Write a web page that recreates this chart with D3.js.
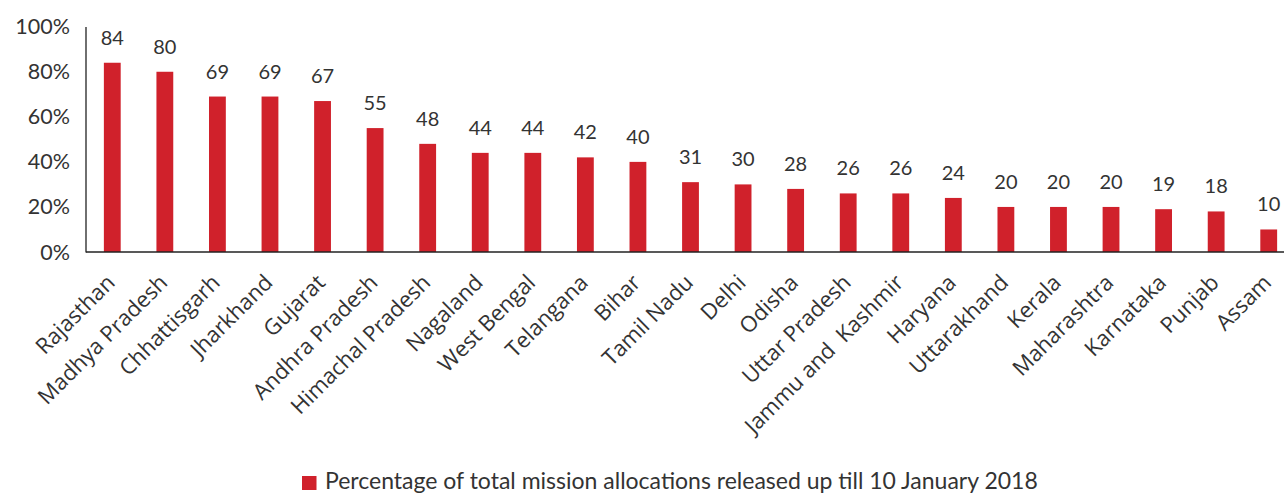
<!DOCTYPE html>
<html><head><meta charset="utf-8">
<script src="https://cdn.jsdelivr.net/npm/d3@7"></script>
<style>body{margin:0;background:#fff;}svg{display:block;}</style>
</head><body>
<svg id="c" width="1284" height="493"></svg>
<script>
const categories = ["Rajasthan","Madhya Pradesh","Chhattisgarh","Jharkhand","Gujarat","Andhra Pradesh","Himachal Pradesh","Nagaland","West Bengal","Telangana","Bihar","Tamil Nadu","Delhi","Odisha","Uttar Pradesh","Jammu and  Kashmir","Haryana","Uttarakhand","Kerala","Maharashtra","Karnataka","Punjab","Assam"];
const values = [84,80,69,69,67,55,48,44,44,42,40,31,30,28,26,26,24,20,20,20,19,18,10];
const yTicks = [0,20,40,60,80,100];
const seriesName = "Percentage of total mission allocations released up till 10 January 2018";

const svg = d3.select("#c");
const red = "#d0212b", txt = "#333";
const x = d3.scaleBand().domain(categories).range([86, 1295]).paddingInner(0.68).paddingOuter(0.34);
const y = d3.scaleLinear().domain([0,100]).range([252, 26.7]);

// y axis labels
svg.append("g").selectAll("text").data(yTicks).join("text")
  .attr("x", 70).attr("y", d => y(d)).attr("dy", "0.35em")
  .attr("text-anchor","end").attr("font-family","Lato, 'Open Sans', sans-serif")
  .attr("font-size", 21.5).attr("fill", txt).text(d => d + "%");

// bars
svg.append("g").selectAll("rect").data(values).join("rect")
  .attr("x", (d,i) => x(categories[i])).attr("width", x.bandwidth())
  .attr("y", d => y(d)).attr("height", d => y(0) - y(d)).attr("fill", red);

// value labels
svg.append("g").selectAll("text").data(values).join("text")
  .attr("x", (d,i) => x(categories[i]) + x.bandwidth()/2).attr("y", d => y(d) - 18)
  .attr("text-anchor","middle").attr("font-family","Lato, 'Open Sans', sans-serif")
  .attr("font-size", 20).attr("fill", txt).text(d => d);

// axes lines
svg.append("line").attr("x1",86).attr("x2",86).attr("y1",27).attr("y2",252.5).attr("stroke","#222").attr("stroke-width",1.3);
svg.append("line").attr("x1",86).attr("x2",1295).attr("y1",252).attr("y2",252).attr("stroke","#222").attr("stroke-width",1.3);

// x labels
svg.append("g").selectAll("text").data(categories).join("text")
  .attr("transform", d => `translate(${x(d) + x.bandwidth()/2 + 4},${284}) rotate(-45)`)
  .attr("text-anchor","end").style("white-space","pre")
  .attr("font-family","'Open Sans', sans-serif").attr("font-size", 22).attr("fill", txt).text(d => d);

// legend
svg.append("rect").attr("x",302).attr("y",476).attr("width",14.5).attr("height",14).attr("fill",red);
svg.append("text").attr("x",325).attr("y",488.5).attr("font-family","Lato, 'Open Sans', sans-serif")
  .attr("font-size",23).attr("fill",txt).text(seriesName);
</script>
</body></html>
